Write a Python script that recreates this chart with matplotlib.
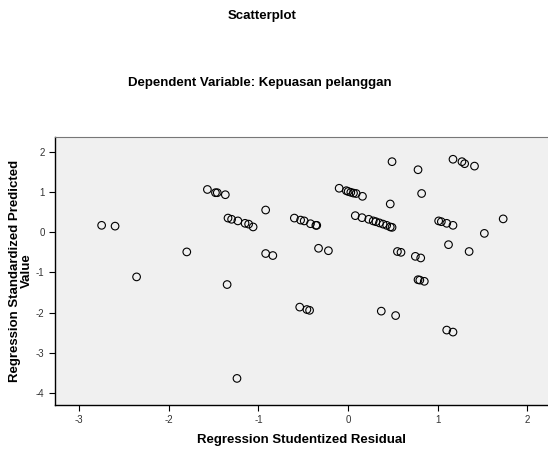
import matplotlib
matplotlib.use('Agg')
import matplotlib.pyplot as plt

plt.rcParams['font.family'] = ['Liberation Sans', 'DejaVu Sans']

# Studentized residual (x) and standardized predicted value (y)
resid = [-2.75, -2.60, -2.36, -1.80, -1.57, -1.48, -1.46, -1.37, -1.34, -1.30, -1.23,
         -1.15, -1.11, -1.06, -1.35, -1.24, -0.92, -0.92, -0.84, -0.60, -0.53, -0.49,
         -0.42, -0.36, -0.35, -0.33, -0.22, -0.54, -0.46, -0.43, -0.10, -0.02, 0.00,
         0.03, 0.06, 0.09, 0.16, 0.47, 0.08, 0.155, 0.23, 0.28, 0.31, 0.35, 0.39,
         0.43, 0.47, 0.49, 0.55, 0.59, 0.37, 0.53, 0.49, 0.78, 0.82, 1.17, 1.27,
         1.30, 1.41, 1.01, 1.04, 1.10, 1.17, 1.73, 1.52, 1.12, 1.35, 0.75, 0.81,
         0.78, 0.80, 0.85, 1.10, 1.17]
pred = [0.17, 0.15, -1.11, -0.49, 1.06, 0.98, 0.98, 0.93, 0.35, 0.32, 0.28,
        0.22, 0.20, 0.13, -1.30, -3.63, 0.55, -0.53, -0.58, 0.35, 0.30, 0.28,
        0.21, 0.17, 0.17, -0.40, -0.46, -1.86, -1.92, -1.94, 1.09, 1.03, 1.01,
        0.99, 0.97, 0.96, 0.89, 0.70, 0.41, 0.36, 0.32, 0.28, 0.26, 0.23, 0.20,
        0.17, 0.13, 0.12, -0.48, -0.50, -1.96, -2.07, 1.75, 1.55, 0.96, 1.81, 1.75,
        1.70, 1.64, 0.28, 0.26, 0.22, 0.17, 0.33, -0.03, -0.31, -0.48, -0.60, -0.64,
        -1.18, -1.19, -1.22, -2.43, -2.48]

x_ticks = [-3, -2, -1, 0, 1, 2]
y_ticks = [2, 1, 0, -1, -2, -3, -4]

fig = plt.figure(figsize=(5.48, 4.51), dpi=100)
ax = fig.add_axes([0.1004, 0.102, 0.8996, 0.594])
ax.set_facecolor('#f0f0f0')

ax.scatter(resid, pred, s=30, facecolors='none', edgecolors='black', linewidths=0.8)

ax.set_xlim(-3.27, 2.23)
ax.set_ylim(-4.29, 2.36)
ax.set_xticks(x_ticks)
ax.set_xticklabels([str(t) for t in x_ticks])
ax.set_yticks(y_ticks)
ax.set_yticklabels([str(t) for t in y_ticks])
ax.tick_params(axis='both', direction='out', length=4, width=0.8, labelsize=7,
               labelcolor='#333333')

ax.spines['right'].set_visible(False)
ax.spines['top'].set_color('#777777')
ax.spines['left'].set_linewidth(1.0)
ax.spines['bottom'].set_linewidth(1.0)

ax.set_xlabel('Regression Studentized Residual', fontsize=9.5, fontweight='bold', labelpad=6)
ax.set_ylabel('Regression Standardized Predicted\nValue', fontsize=9.5, fontweight='bold',
              labelpad=2, linespacing=1.0)

fig.text(0.478, 1 - 16 / 451, 'Scatterplot', ha='center', va='center',
         fontsize=9.5, fontweight='bold')
fig.text(0.474, 1 - 83 / 451, 'Dependent Variable: Kepuasan pelanggan', ha='center',
         va='center', fontsize=9.5, fontweight='bold')

plt.savefig('out.png', dpi=100)
